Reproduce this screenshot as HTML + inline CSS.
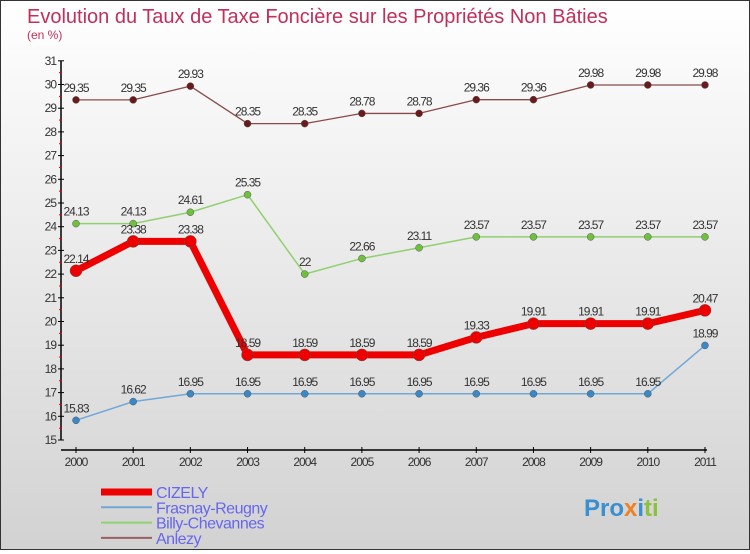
<!DOCTYPE html>
<html><head><meta charset="utf-8"><style>
html,body{margin:0;padding:0}
body{width:750px;height:550px;overflow:hidden;font-family:"Liberation Sans",sans-serif}
#wrap{position:absolute;left:0;top:0;width:748px;height:548px;border:1px solid #333;background:linear-gradient(#ffffff,#d2d2d2)}
</style></head><body>
<div id="wrap">
<svg id="chart" width="748" height="548" xmlns="http://www.w3.org/2000/svg">
<text x="26" y="22" font-size="20" fill="#c0305a">Evolution du Taux de Taxe Foncière sur les Propriétés Non Bâties</text>
<text x="26" y="38" font-size="12" fill="#c0305a">(en %)</text>
<g id="axes"></g><g id="series"></g><g id="legend"></g>
<text x="583" y="515" font-size="24" font-weight="bold" fill="#3a8fd0">Pro<tspan fill="#f08020">x</tspan><tspan fill="#3a8fd0">i</tspan><tspan fill="#8cc040">ti</tspan></text>
</svg></div>
<script>
const years=[2000,2001,2002,2003,2004,2005,2006,2007,2008,2009,2010,2011];
const yTicks=[15,16,17,18,19,20,21,22,23,24,25,26,27,28,29,30,31];
const cizely=[22.14,23.38,23.38,18.59,18.59,18.59,18.59,19.33,19.91,19.91,19.91,20.47];
const frasnay=[15.83,16.62,16.95,16.95,16.95,16.95,16.95,16.95,16.95,16.95,16.95,18.99];
const billy=[24.13,24.13,24.61,25.35,22,22.66,23.11,23.57,23.57,23.57,23.57,23.57];
const anlezy=[29.35,29.35,29.93,28.35,28.35,28.78,28.78,29.36,29.36,29.98,29.98,29.98];
const seriesNames=["CIZELY","Frasnay-Reugny","Billy-Chevannes","Anlezy"];
const NS="http://www.w3.org/2000/svg";
const xs=i=>75+i*57.18;
const ys=v=>439-(v-15)*23.7;
function mk(t,a,p){const e=document.createElementNS(NS,t);for(const k in a)e.setAttribute(k,a[k]);p.appendChild(e);return e;}
const ax=document.getElementById('axes');
let l=mk('line',{x1:60,y1:ys(31),x2:60,y2:ys(15),stroke:'#000','stroke-width':1.5},ax);

l=mk('line',{x1:60,y1:449,x2:xs(11)+2,y2:449,stroke:'#000','stroke-width':1.5},ax);

yTicks.forEach(v=>{
 mk('line',{x1:57,y1:ys(v),x2:63,y2:ys(v),stroke:'#000'},ax);
 if(v<31)mk('line',{x1:58,y1:ys(v+0.5),x2:61,y2:ys(v+0.5),stroke:'#e00'},ax);
 const t=mk('text',{x:55,y:ys(v)+4,'font-size':12,fill:'#333','text-anchor':'end','letter-spacing':'-1'},ax);
 t.textContent=v;
 
});
years.forEach((y,i)=>{
 mk('line',{x1:xs(i),y1:446,x2:xs(i),y2:452,stroke:'#000'},ax);
 const t=mk('text',{x:xs(i),y:465,'font-size':12,fill:'#333','text-anchor':'middle','letter-spacing':'-1'},ax);
 t.textContent=y;
 
});
const sg=document.getElementById('series');
function draw(data,color,w,r,dot,name){
 const g=mk('g',{},sg);
 
 const pl=mk('polyline',{points:data.map((v,i)=>xs(i)+','+ys(v)).join(' '),fill:'none',stroke:color,'stroke-width':w,'stroke-linejoin':'round'},g);
 
 data.forEach((v,i)=>{
  const c=mk('circle',{cx:xs(i),cy:ys(v),r:r,fill:dot,stroke:'#555','stroke-width':0.5},g);
  
  const t=mk('text',{x:xs(i),y:ys(v)-8,'font-size':12,fill:'#333','text-anchor':'middle','letter-spacing':'-1'},g);
  t.textContent=v;
  
 });
}
draw(anlezy,'#8b4a4a',1.3,3.5,'#6a1a1a','anlezy');
draw(billy,'#90d070',1.5,3.5,'#70c040','billy-chevannes');
draw(frasnay,'#70a8d8',1.5,3.5,'#3a88c8','frasnay-reugny');
draw(cizely,'#ee0000',7,6,'#ee0000','cizely');
const lg=document.getElementById('legend');
const lcol=['#ee0000','#70a8d8','#90d070','#9a6060'];const lw=[7,2,2,2];
seriesNames.forEach((n,i)=>{
 const y=491+i*15.3;
 const ln=mk('line',{x1:100,y1:y,x2:151,y2:y,stroke:lcol[i],'stroke-width':lw[i]},lg);
 
 const t=mk('text',{x:155,y:y+6,'font-size':16,fill:'#6666ee','letter-spacing':'-0.5'},lg);
 t.textContent=n;
 
});
</script>
</body></html>
